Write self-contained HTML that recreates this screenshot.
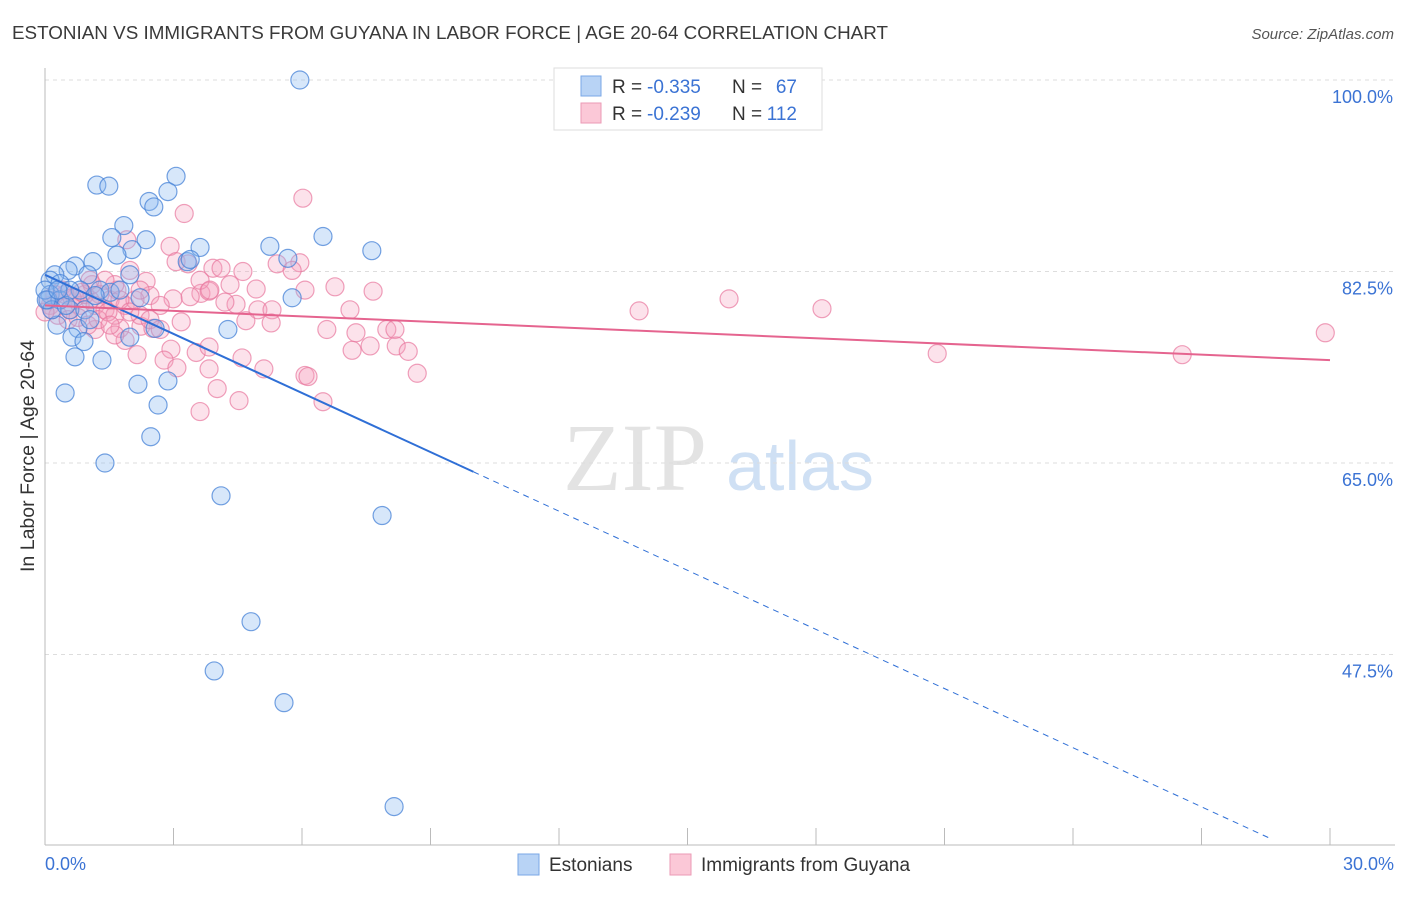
<!DOCTYPE html>
<html><head><meta charset="utf-8"><style>
body{margin:0;background:#fff;font-family:"Liberation Sans",sans-serif;}
</style></head><body>
<svg width="1406" height="892" xmlns="http://www.w3.org/2000/svg" id="chart" style="font-family:'Liberation Sans',sans-serif">
<text x="12" y="39" font-size="18" fill="#3a3a3a" textLength="876" lengthAdjust="spacingAndGlyphs">ESTONIAN VS IMMIGRANTS FROM GUYANA IN LABOR FORCE | AGE 20-64 CORRELATION CHART</text>
<text x="1394" y="39" font-size="15" fill="#555" font-style="italic" text-anchor="end">Source: ZipAtlas.com</text>
<text transform="translate(34,456) rotate(-90)" font-size="19" fill="#333" text-anchor="middle" textLength="232" lengthAdjust="spacingAndGlyphs">In Labor Force | Age 20-64</text>
<g>
<text x="635" y="490" font-size="96" fill="#e3e3e3" text-anchor="middle" font-family="Liberation Serif,serif">ZIP</text>
<text x="800" y="490" font-size="70" fill="#cfe0f4" text-anchor="middle">atlas</text>
</g>
<g id="grid"></g>
<g id="axes"></g>
<g id="marks"></g>
<g>
<rect x="554" y="68" width="268" height="62" fill="#fff" stroke="#ddd"/>
<rect x="581" y="76" width="20" height="20" fill="#b8d3f5" stroke="#7aa7e6"/>
<rect x="581" y="103" width="20" height="20" fill="#fbc8d7" stroke="#eb9ab5"/>
<text x="612" y="93" font-size="19" fill="#333">R =</text>
<text x="647" y="93" font-size="19" fill="#3b73d4">-0.335</text>
<text x="732" y="93" font-size="19" fill="#333">N =</text>
<text x="797" y="93" font-size="19" fill="#3b73d4" text-anchor="end">67</text>
<text x="612" y="120" font-size="19" fill="#333">R =</text>
<text x="647" y="120" font-size="19" fill="#3b73d4">-0.239</text>
<text x="732" y="120" font-size="19" fill="#333">N =</text>
<text x="797" y="120" font-size="19" fill="#3b73d4" text-anchor="end">112</text>
</g>
<g>
<rect x="518" y="854" width="21" height="21" fill="#b8d3f5" stroke="#7aa7e6"/>
<text x="549" y="871" font-size="19" fill="#333">Estonians</text>
<rect x="670" y="854" width="21" height="21" fill="#fbc8d7" stroke="#eb9ab5"/>
<text x="701" y="871" font-size="19" fill="#333">Immigrants from Guyana</text>
</g>
</svg>
<script>
const blueX=[5.95,1.21,1.49,3.06,2.87,2.43,2.54,1.84,1.56,2.36,3.62,5.25,6.49,7.63,5.67,3.32,3.39,2.03,1.68,1.12,0.70,0.54,1.00,0.23,0.12,0.35,0.82,1.28,1.98,2.22,5.77,0.58,0.93,0.28,0.77,2.57,1.98,0.63,0.91,4.27,1.33,0.70,0.47,2.17,2.87,2.64,2.47,1.40,4.11,7.87,4.81,3.95,5.58,8.15,0.12,0.07,0.35,1.52,1.17,0.16,0.49,1.05,1.75,0.0,0.58,0.03,0.30];
const blueY=[100,90.4,90.3,91.2,89.8,88.9,88.4,86.7,85.6,85.4,84.7,84.8,85.7,84.4,83.7,83.4,83.6,84.5,84.0,83.4,83.0,82.6,82.2,82.2,81.7,81.4,80.8,80.8,82.2,80.1,80.1,79.0,79.0,77.6,77.3,77.3,76.5,76.5,76.1,77.2,74.4,74.7,71.4,72.2,72.5,70.3,67.4,65.0,62.0,60.2,50.5,46.0,43.1,33.6,80.4,79.9,79.9,80.6,80.3,79.0,79.4,78.1,80.8,80.8,80.8,79.9,80.8];
const pinkX=[6.02,3.25,1.91,2.92,5.95,3.06,3.34,3.92,4.11,4.62,5.42,5.77,6.07,6.77,7.66,4.93,3.64,2.36,1.98,1.68,2.45,2.99,3.39,3.83,4.46,4.20,4.97,5.30,4.69,5.28,3.18,2.24,1.75,1.17,2.52,6.58,7.26,7.98,8.17,7.59,7.17,8.20,8.48,2.94,3.53,3.83,2.15,2.78,3.08,4.60,5.11,6.07,6.14,8.69,3.83,4.02,4.53,3.62,6.49,13.87,15.97,18.14,20.83,26.55,29.89,1.28,1.52,1.05,0.82,0.58,0.35,0.12,0.23,0.47,0.70,0.93,1.17,1.40,1.63,1.87,2.10,1.63,1.40,1.10,0.07,0.16,0.30,0.54,0.77,1.00,1.24,1.47,1.75,2.22,2.69,0.0,0.40,0.63,0.86,1.98,2.45,2.69,1.87,1.63,4.32,3.62,3.85,7.12,2.22,1.52,1.05];
const pinkY=[89.2,87.8,85.4,84.8,83.3,83.4,83.2,82.8,82.8,82.5,83.2,82.6,80.8,81.1,80.7,80.9,80.5,81.6,82.6,80.8,80.3,80.0,80.2,80.7,79.5,79.7,79.0,79.0,78.0,77.8,77.9,77.5,77.3,77.2,77.3,77.2,76.9,77.2,77.2,75.7,75.3,75.7,75.2,75.4,75.1,75.6,74.9,74.4,73.7,74.6,73.6,73.0,72.9,73.2,73.6,71.8,70.7,69.7,70.6,78.9,80.0,79.1,75.0,74.9,76.9,80.4,79.9,79.9,79.4,79.0,79.9,79.4,80.4,80.4,80.1,80.4,79.4,79.0,78.5,79.4,79.9,81.3,81.7,81.3,79.9,79.0,78.5,78.1,78.3,77.6,78.1,78.8,79.9,78.5,79.4,78.8,80.8,80.1,80.6,78.8,78.1,77.2,76.2,76.7,81.3,81.7,80.8,79.0,80.8,77.6,81.7];
const yTicks=[100,82.5,65,47.5];
const yTickLabels=["100.0%","82.5%","65.0%","47.5%"];
const xTicks=[0,3,6,9,12,15,18,21,24,27,30];
const blueTrend=[[0,82.2],[10,64.2],[28.6,30.7]];
const pinkTrend=[[0,79.4],[30,74.4]];
const NS="http://www.w3.org/2000/svg";
const sx=v=>45+v*(1285/30);
const sy=v=>80+(100-v)*10.943;
function mk(tag,attrs,parent){const e=document.createElementNS(NS,tag);for(const k in attrs)e.setAttribute(k,attrs[k]);document.getElementById(parent).appendChild(e);return e;}
yTicks.forEach((t,i)=>{
 const g=mk('line',{x1:45,x2:1395,y1:sy(t),y2:sy(t),stroke:'#ddd','stroke-dasharray':'4,4'},'grid');
 
 
 const l=mk('text',{x:1393,y:sy(t)+23,'font-size':18,fill:'#3b73d4','text-anchor':'end'},'axes');
 l.textContent=yTickLabels[i];
 
 
});
const ax=mk('line',{x1:45,x2:45,y1:68,y2:845,stroke:'#bbb'},'axes');


const bx=mk('line',{x1:45,x2:1395,y1:845,y2:845,stroke:'#bbb'},'axes');


xTicks.forEach(t=>{const k=mk('line',{x1:sx(t),x2:sx(t),y1:828,y2:845,stroke:'#bbb'},'axes');
 
 });
const x0=mk('text',{x:45,y:870,'font-size':18,fill:'#3b73d4'},'axes');x0.textContent='0.0%';


const x1=mk('text',{x:1394,y:870,'font-size':18,fill:'#3b73d4','text-anchor':'end'},'axes');x1.textContent='30.0%';


pinkX.forEach((v,i)=>{const c=mk('circle',{cx:sx(v),cy:sy(pinkY[i]),r:9,fill:'rgba(246,160,188,0.3)',stroke:'rgba(232,120,158,0.7)','stroke-width':1.2},'marks');
 
 });
blueX.forEach((v,i)=>{const c=mk('circle',{cx:sx(v),cy:sy(blueY[i]),r:9,fill:'rgba(140,185,240,0.35)',stroke:'rgba(70,130,215,0.75)','stroke-width':1.2},'marks');
 
 });
const bt=mk('line',{x1:sx(blueTrend[0][0]),y1:sy(blueTrend[0][1]),x2:sx(blueTrend[1][0]),y2:sy(blueTrend[1][1]),stroke:'#2f6fd6','stroke-width':2},'marks');


const bd=mk('line',{x1:sx(blueTrend[1][0]),y1:sy(blueTrend[1][1]),x2:sx(blueTrend[2][0]),y2:sy(blueTrend[2][1]),stroke:'#2f6fd6','stroke-width':1,'stroke-dasharray':'6,5'},'marks');


const pt=mk('line',{x1:sx(pinkTrend[0][0]),y1:sy(pinkTrend[0][1]),x2:sx(pinkTrend[1][0]),y2:sy(pinkTrend[1][1]),stroke:'#e5648f','stroke-width':2},'marks');


</script>
</body></html>
